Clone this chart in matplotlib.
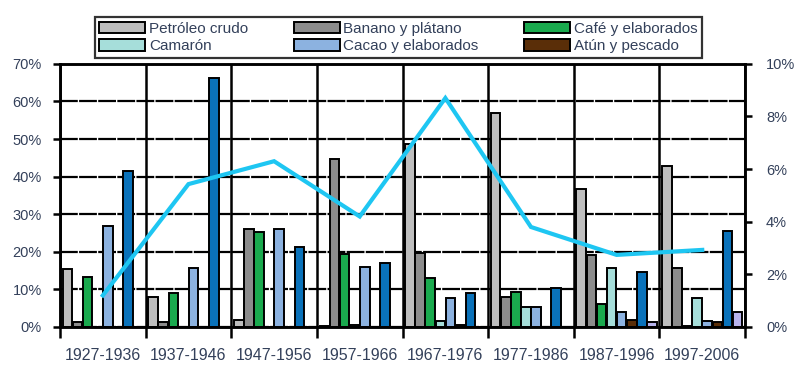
import matplotlib
matplotlib.use("Agg")
import matplotlib.pyplot as plt
import numpy as np
from matplotlib.ticker import FuncFormatter, MultipleLocator, FixedLocator

plt.rcParams['font.family'] = ['Liberation Sans', 'DejaVu Sans']

# Decades on the horizontal axis
periods = ["1927-1936", "1937-1946", "1947-1956", "1957-1966",
           "1967-1976", "1977-1986", "1987-1996", "1997-2006"]

# Share of exports by product (%), left axis
petroleo = [15.3, 8.0, 1.8, 0.3, 48.7, 56.9, 36.7, 42.7]
banano = [1.3, 1.2, 26.1, 44.7, 19.6, 8.0, 19.1, 15.8]
cafe = [13.3, 9.1, 25.4, 19.3, 13.1, 9.3, 6.0, 0.3]
camaron = [0.0, 0.0, 0.0, 0.5, 1.6, 5.2, 15.6, 7.6]
cacao = [26.9, 15.8, 26.2, 16.0, 7.6, 5.2, 4.0, 1.6]
atun = [0.0, 0.0, 0.0, 0.0, 0.5, 0.0, 1.8, 1.2]
otros = [41.5, 66.3, 21.4, 16.9, 9.1, 10.5, 14.5, 25.5]
flores = [0.0, 0.0, 0.0, 0.0, 0.0, 0.0, 1.3, 4.0]

# Line on the right axis (%)
linea = [1.2, 5.43, 6.3, 4.2, 8.7, 3.8, 2.74, 2.93]

series = [
    ("Petróleo crudo", petroleo, "#BEBEBE"),
    ("Banano y plátano", banano, "#8C8C8C"),
    ("Café y elaborados", cafe, "#1AAA4E"),
    ("Camarón", camaron, "#A6DEDA"),
    ("Cacao y elaborados", cacao, "#8CB2E0"),
    ("Atún y pescado", atun, "#5A2E08"),
    (None, otros, "#0A72BA"),
    (None, flores, "#B8B4EE"),
]

text_color = "#33405A"

fig = plt.figure(figsize=(7.96, 3.67), dpi=100)
ax = fig.add_axes([0.0754, 0.109, 0.8606, 0.717])

x = np.arange(len(periods))
step = 0.118
width = 0.112
handles = {}
for i, (name, vals, color) in enumerate(series):
    bars = ax.bar(x + (i - 3.5) * step, vals, width=width, color=color,
                  edgecolor="black", linewidth=1.4, zorder=3)
    if name:
        handles[name] = bars

ax.set_xlim(-0.5, len(periods) - 0.5)
ax.set_ylim(0, 70)
ax.yaxis.set_major_locator(MultipleLocator(10))
ax.yaxis.set_major_formatter(FuncFormatter(lambda v, p: f"{v:.0f}%"))
ax.grid(axis="y", color="black", linewidth=1.6, linestyle=(0, (8, 0.6)), zorder=1)

ax.set_xticks(x)
ax.set_xticklabels(periods)
ax.xaxis.set_minor_locator(FixedLocator(np.arange(-0.5, len(periods), 1.0)))
ax.grid(axis="x", which="minor", color="black", linewidth=1.8, zorder=1)
ax.tick_params(axis="x", which="major", length=0, pad=15, labelsize=11.5, labelcolor=text_color)
ax.tick_params(axis="x", which="minor", length=8, width=1.8, direction="out")
ax.tick_params(axis="y", length=5, width=1.8, direction="out", pad=8,
               labelsize=10.5, labelcolor=text_color)
ax.set_axisbelow(True)
for s in ax.spines.values():
    s.set_linewidth(1.8)
    s.set_color("black")

ax2 = ax.twinx()
ax2.plot(x, linea, color="#1EC6F2", linewidth=3, solid_joinstyle="miter", zorder=5)
ax2.set_ylim(0, 10)
ax2.yaxis.set_major_locator(MultipleLocator(2))
ax2.yaxis.set_major_formatter(FuncFormatter(lambda v, p: f"{v:.0f}%"))
ax2.tick_params(axis="y", length=5, width=1.8, direction="out", pad=10,
                labelsize=10.5, labelcolor=text_color)
for s in ax2.spines.values():
    s.set_linewidth(1.8)

order = ["Petróleo crudo", "Camarón", "Banano y plátano",
         "Cacao y elaborados", "Café y elaborados", "Atún y pescado"]
leg = fig.legend([handles[n] for n in order], order, ncol=3,
                 loc="lower left", bbox_to_anchor=(0.119, 0.842, 0.763, 0.131),
                 mode="expand", frameon=True, fancybox=False, shadow=False,
                 fontsize=11, handlelength=3.0, handleheight=0.75,
                 handletextpad=0.25, borderpad=0.3, labelspacing=0.25,
                 borderaxespad=0.0, columnspacing=1.0)
leg.get_frame().set_edgecolor("black")
leg.get_frame().set_linewidth(1.6)
for t in leg.get_texts():
    t.set_color(text_color)

fig.savefig("out.png", dpi=100)
